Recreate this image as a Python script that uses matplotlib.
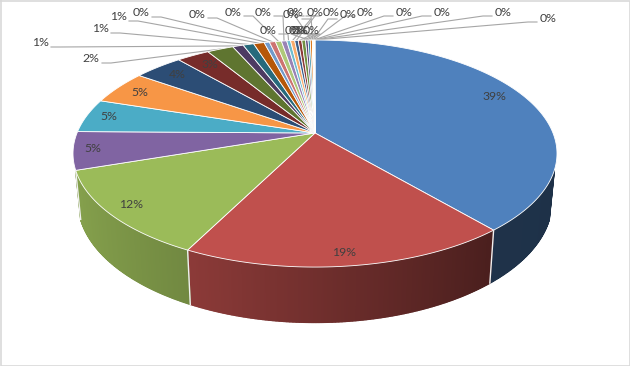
import numpy as np
import matplotlib
matplotlib.use('Agg')
import matplotlib.pyplot as plt
from matplotlib.colors import to_rgb

# slice shares, clockwise from 12 o'clock
values = [38.8, 18.6, 12.4, 5.4, 4.8, 4.8, 3.9, 2.6, 2.1, 0.85, 0.85, 0.85,
          0.42, 0.48, 0.48, 0.42, 0.30, 0.33, 0.28, 0.28, 0.30, 0.20,
          0.17, 0.17, 0.03, 0.03, 0.03, 0.03, 0.03, 0.03, 0.03]
cycle = ['#4f81bd', '#c0504d', '#9bbb59', '#8064a2', '#4bacc6', '#f79646',
         '#2c4d75', '#772c2a', '#5f7530', '#4d3b62', '#276a7c', '#b65708',
         '#729aca', '#cd7371', '#afc97a', '#9983b5', '#6fbdd1', '#f9ab6b',
         '#3a5f8b', '#8c3a38', '#719043', '#5f4a7d', '#328ca5', '#dc7a1e',
         '#95b3d7', '#d99694', '#c3d69b', '#b3a2c7', '#93cddd', '#fac090']

# label centres in pixels, same order as values
label_x = [494, 344, 131, 93, 109, 140, 177, 210, 91, 40, 100, 118,
           141, 197, 233, 263, 268, 291, 295, 293, 297, 300, 311, 315,
           331, 348, 365, 404, 442, 503, 548]
label_y = [97, 253, 205, 148, 117, 92, 75, 65, 59, 43, 29, 17,
           13, 14, 12, 12, 30, 15, 12, 30, 30, 30, 30, 12,
           12, 15, 12, 12, 12, 12, 18]
inside = 8  # the first labels sit on their slice, the others have a leader

plt.rcParams['font.family'] = ['Lato', 'DejaVu Sans']

# perspective of the tilted disc
cx = 315
top = (238, 133, 109.8)
low = (233, 179.6, 117)
k = 0.181
wall_limit = -0.32  # the wall only shows below this cos(angle)


def ring(theta, plane):
    a, cy, b = plane
    u = np.sin(theta)
    v = np.cos(theta)
    d = 1 + k * v
    return cx + a * u / d, cy - b * v / d


fig = plt.figure(figsize=(6.3, 3.66), dpi=100)
ax = fig.add_axes([0, 0, 1, 1])
ax.set_xlim(0, 630)
ax.set_ylim(366, 0)
ax.axis('off')

total = sum(values)
edges = np.cumsum([0] + values) / total * 2 * np.pi


def shade(name, u):
    f = np.interp(u, [-1, -0.45, 0.63, 1], [0.87, 0.73, 0.39, 0.38])
    return tuple(c * f for c in to_rgb(name))


# side wall, in thin strips so that it can shade
for i in range(len(values)):
    col = cycle[i % len(cycle)]
    n = max(int((edges[i + 1] - edges[i]) * 200), 1)
    t = np.linspace(edges[i], edges[i + 1], n + 1)
    for j in range(n):
        if np.cos(t[j]) > wall_limit or np.cos(t[j + 1]) > wall_limit:
            continue
        x1, y1 = ring(t[j:j + 2], top)
        x2, y2 = ring(t[j:j + 2], low)
        c = shade(col, np.sin((t[j] + t[j + 1]) / 2))
        ax.fill(np.r_[x1, x2[::-1]], np.r_[y1, y2[::-1]], color=c, lw=1.0, zorder=2)
    if np.cos(edges[i + 1]) < wall_limit:
        x1, y1 = ring(edges[i + 1], top)
        x2, y2 = ring(edges[i + 1], low)
        ax.plot([x1, x2], [y1, y2], color='#f0f0f0', lw=1, zorder=3)

# leader lines go under the top of the pie
for i in range(inside, len(values)):
    tx, ty = ring((edges[i] + edges[i + 1]) / 2, top)
    lx = label_x[i]
    ly = label_y[i] + 4
    if lx < tx:
        sx = lx + 11
        px = [sx, sx + 9, tx]
    else:
        sx = lx - 11
        px = [sx, sx - 9, tx]
    ax.plot(px, [ly, ly, ty], color='#a6a6a6', lw=0.8, zorder=1)

# top of the pie
apex_y = top[1]
for i in range(len(values)):
    t = np.linspace(edges[i], edges[i + 1], max(int((edges[i + 1] - edges[i]) * 60), 2))
    x, y = ring(t, top)
    ax.fill(np.r_[cx, x], np.r_[apex_y, y], facecolor=cycle[i % len(cycle)],
            edgecolor='white', lw=0.6, zorder=4)

for i in range(len(values)):
    ax.text(label_x[i], label_y[i], '%d%%' % round(values[i] / total * 100), ha='center',
            va='center', fontsize=8.8, color='#404040', zorder=6)

# chart frame
ax.plot([0.5, 629.5, 629.5, 0.5, 0.5], [0.5, 0.5, 365.5, 365.5, 0.5],
        color='#d9d9d9', lw=1.2, zorder=7)

fig.savefig('out.png', dpi=100)
